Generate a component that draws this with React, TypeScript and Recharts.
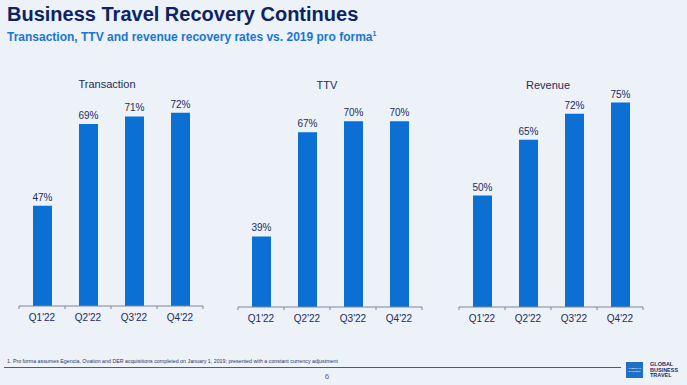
import { BarChart, Bar, XAxis, YAxis, LabelList } from "recharts";

const quarters = ["Q1'22", "Q2'22", "Q3'22", "Q4'22"];
const transaction = [47, 69, 71, 72];
const ttv = [39, 67, 70, 70];
const revenue = [50, 65, 72, 75];

const FONT = '"Liberation Sans", Arial, sans-serif';
const BLUE = "#0b6fd3";
const NAVY = "#0c2461";
const LABEL = "#1d2c5c";
const AXIS = "#7d879e";
const CHART_W = 204;
const SIDE = 10;
const PLOT_W = CHART_W - 2 * SIDE;
const TICK_GAP = 8;

// quarter label plus small tick marks on the category boundaries
function QuarterTick(props: any) {
  const { x, y, payload, index, visibleTicksCount } = props;
  const count = visibleTicksCount || quarters.length;
  const axisW = typeof props.width === "number" && props.width > 0 ? props.width : PLOT_W;
  const half = axisW / count / 2;
  const y0 = y - TICK_GAP;
  return (
    <g>
      <line x1={x - half} x2={x - half} y1={y0} y2={y0 + 3} stroke={AXIS} />
      {index === count - 1 && (
        <line x1={x + half} x2={x + half} y1={y0} y2={y0 + 3} stroke={AXIS} />
      )}
      <text x={x} y={y} dy="0.71em" textAnchor="middle" fill={LABEL} fontSize={10} fontFamily={FONT}>
        {payload.value}
      </text>
    </g>
  );
}

interface PanelProps {
  title: string;
  values: number[];
  left: number;
  axisY: number;
  titleShift: number;
}

function Panel({ title, values, left, axisY, titleShift }: PanelProps) {
  const rows = quarters.map((q, i) => ({ q, v: values[i] }));
  const top = axisY - 246;
  return (
    <div style={{ position: "absolute", left: left - SIDE, top }}>
      <div
        style={{
          position: "absolute",
          left: SIDE + titleShift,
          width: PLOT_W,
          top: 18,
          textAlign: "center",
          fontSize: 11,
          color: LABEL,
          fontFamily: FONT,
        }}
      >
        {title}
      </div>
      <BarChart
        width={CHART_W}
        height={276}
        data={rows}
        margin={{ top: 23, right: SIDE, bottom: 0, left: SIDE }}
      >
        <YAxis hide domain={[20, 80]} />
        <XAxis
          dataKey="q"
          height={30}
          interval={0}
          axisLine={{ stroke: AXIS }}
          tickLine={false}
          tickSize={0}
          tickMargin={TICK_GAP}
          tick={<QuarterTick />}
        />
        <Bar dataKey="v" fill={BLUE} barSize={19} isAnimationActive={false}>
          <LabelList
            dataKey="v"
            position="top"
            offset={5}
            formatter={(v: number) => `${v}%`}
            style={{ fill: LABEL, fontSize: 10, fontFamily: FONT }}
          />
        </Bar>
      </BarChart>
    </div>
  );
}

export default function App() {
  return (
    <div
      style={{
        position: "absolute",
        left: 0,
        top: 0,
        width: 687,
        height: 385,
        background: "#edf1f8",
        fontFamily: FONT,
        overflow: "hidden",
      }}
    >
      <div
        style={{
          position: "absolute",
          left: 7,
          top: 3,
          fontSize: 20,
          fontWeight: "bold",
          color: NAVY,
        }}
      >
        Business Travel Recovery Continues
      </div>
      <div
        style={{
          position: "absolute",
          left: 7,
          top: 30,
          fontSize: 12,
          fontWeight: "bold",
          color: "#1b75d6",
        }}
      >
        Transaction, TTV and revenue recovery rates vs. 2019 pro forma
        <sup style={{ fontSize: 7 }}>1</sup>
      </div>

      <Panel title="Transaction" values={transaction} left={19} axisY={306} titleShift={-4} />
      <Panel title="TTV" values={ttv} left={238} axisY={307} titleShift={-3} />
      <Panel title="Revenue" values={revenue} left={459} axisY={307} titleShift={-3} />

      <div
        style={{
          position: "absolute",
          left: 7,
          top: 358,
          fontSize: 5.3,
          color: "#2a3560",
          whiteSpace: "nowrap",
        }}
      >
        1. Pro forma assumes Egencia, Ovation and DER acquisitions completed on January 1, 2019; presented with a constant currency adjustment
      </div>
      <div
        style={{
          position: "absolute",
          left: 4,
          top: 367,
          width: 617,
          height: 1,
          background: "#4a5a86",
        }}
      />
      <div
        style={{
          position: "absolute",
          left: 322,
          top: 372,
          width: 10,
          textAlign: "center",
          fontSize: 8,
          color: "#5a6585",
        }}
      >
        6
      </div>
      <div
        style={{
          position: "absolute",
          left: 626,
          top: 362,
          width: 17,
          height: 16,
          background: "#1f6fc6",
          color: "#fff",
          fontSize: 2.5,
          lineHeight: "3px",
          textAlign: "center",
          paddingTop: 5,
          boxSizing: "border-box",
        }}
      >
        AMERICAN
        <br />
        EXPRESS
      </div>
      <div
        style={{
          position: "absolute",
          left: 650,
          top: 362,
          fontSize: 5.5,
          lineHeight: "5.5px",
          fontWeight: "bold",
          color: LABEL,
        }}
      >
        GLOBAL
        <br />
        BUSINESS
        <br />
        TRAVEL
      </div>
    </div>
  );
}
